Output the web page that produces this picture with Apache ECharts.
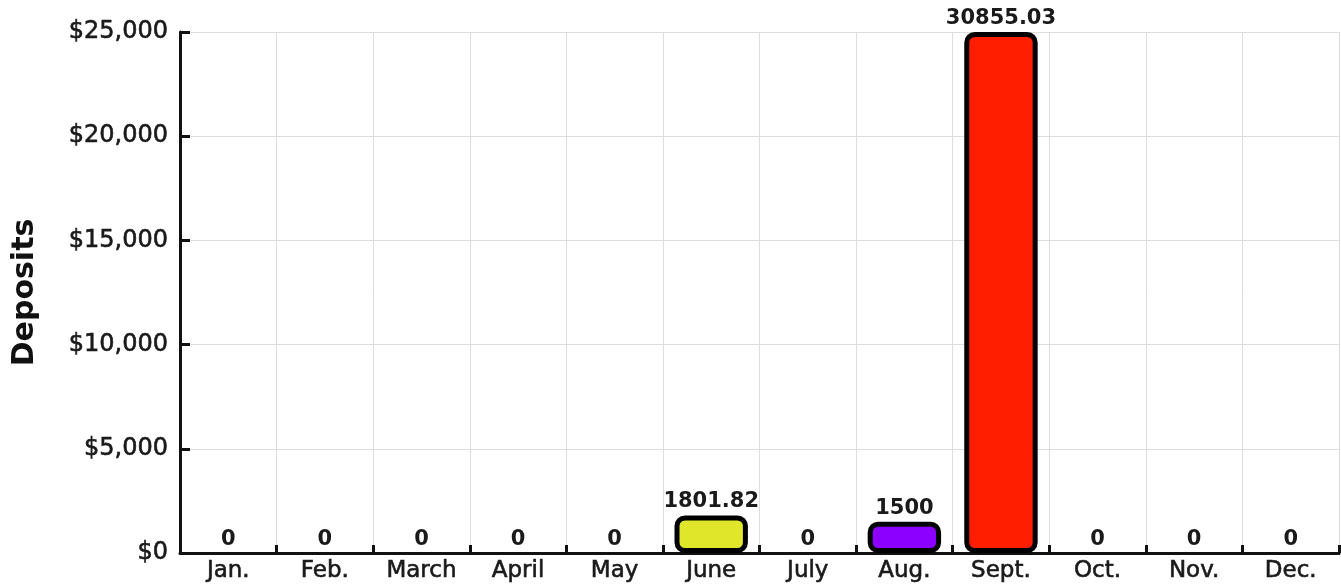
<!DOCTYPE html>
<html><head><meta charset="utf-8">
<script src="https://cdn.jsdelivr.net/npm/echarts@6/dist/echarts.min.js"></script>
<style>html,body{margin:0;padding:0;background:#fff}#c{width:1341px;height:586px}</style>
</head><body><div id="c"></div>
<script>
const categories = ['Jan.','Feb.','March','April','May','June','July','Aug.','Sept.','Oct.','Nov.','Dec.'];
const deposits = [0,0,0,0,0,1801.82,0,1500,30855.03,0,0,0];
const barColors = ['#4e79a7','#f28e2b','#76b7b2','#59a14f','#edc948','#e0e62a','#ff9da7','#8b00ff','#ff1e00','#9c755f','#bab0ac','#4e79a7'];
const yTicks = [0,5000,10000,15000,20000,25000];
const yMax = 25000;

const chart = echarts.init(document.getElementById('c'));
const FONT = 'DejaVu Sans';
chart.setOption({
  animation:false,
  grid:{left:180,right:2,top:32,bottom:33,containLabel:false,outerBoundsMode:'none'},
  xAxis:{
    type:'category', data:categories,
    axisLine:{lineStyle:{color:'#111',width:3}},
    axisTick:{show:true,inside:true,length:8,lineStyle:{color:'#111',width:3}},
    splitLine:{show:true,lineStyle:{color:'#dddddd',width:1}},
    axisLabel:{color:'#1a1a1a',fontSize:23,fontFamily:FONT,margin:7,textBorderColor:'#1a1a1a',textBorderWidth:0.6}
  },
  yAxis:{
    type:'value', min:0, max:yMax, interval:5000,
    name:'Deposits', nameLocation:'middle', nameGap:140, nameRotate:90,
    nameTextStyle:{fontSize:30,fontWeight:'bold',color:'#111',fontFamily:FONT},
    axisLine:{show:true,lineStyle:{color:'#111',width:3}},
    axisTick:{show:true,inside:true,length:10,lineStyle:{color:'#111',width:3}},
    splitLine:{show:true,lineStyle:{color:'#dddddd',width:1}},
    axisLabel:{color:'#1a1a1a',fontSize:24,fontFamily:FONT,margin:12,textBorderColor:'#1a1a1a',textBorderWidth:0.6,
      formatter:v=>'$'+v.toLocaleString('en-US')}
  },
  series:[{
    type:'bar', barWidth:'76%',
    data:deposits.map((v,i)=>({value:Math.min(v,yMax),
      itemStyle:{color:barColors[i],borderWidth:v>0?5:0}})),
    itemStyle:{borderColor:'#000',borderRadius:8},
    label:{show:true,position:'top',distance:3,color:'#1a1a1a',fontWeight:'bold',fontSize:21,fontFamily:FONT,
      formatter:p=>String(deposits[p.dataIndex])}
  }]
});
</script></body></html>
